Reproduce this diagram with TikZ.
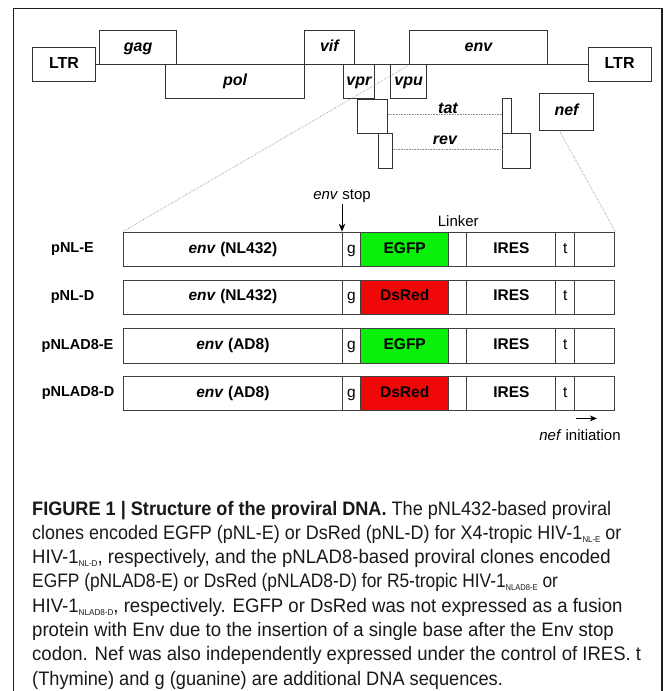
\documentclass[tikz,border=0pt]{standalone}
\usepackage{fontspec}
\setmainfont{Liberation Sans}
\newfontfamily\capfont[FakeStretch=0.956]{Liberation Sans}
\usetikzlibrary{arrows.meta,calc}
\definecolor{gfpgreen}{RGB}{8,240,8}
\definecolor{dsred}{RGB}{240,8,8}
\definecolor{frameblk}{RGB}{30,30,30}
\newcommand\subsc[1]{\raisebox{-3pt}{\fontsize{8.5}{8.5}\selectfont #1}}
\newcommand\fs[1]{\fontsize{#1}{#1}\selectfont}
\newcommand\sq[2]{\scalebox{#1}[1]{#2}}
\tikzset{
 gene/.style={draw=black!80, line width=0.8pt, fill=white, inner sep=0pt, anchor=north west,
   text height=11.5pt, text depth=4pt, font=\fs{16}\bfseries\itshape},
 ltr/.style={gene, font=\fs{16}\bfseries},
 glabel/.style={inner sep=0pt, font=\fs{16}\bfseries\itshape},
 backbone/.style={draw=black!80, line width=0.8pt},
 faint/.style={draw=black!45, line width=0.6pt, densely dotted},
 cell/.style={draw=black!75, line width=1.1pt, fill=white, inner sep=0pt, anchor=north west,
   minimum height=34.3pt, text height=11pt, text depth=3.5pt, font=\fs{15.5}\bfseries},
 plaincell/.style={cell, font=\fs{15.5}},
 rowlab/.style={inner sep=0pt, font=\fs{14.5}\bfseries},
 note/.style={inner sep=1pt, font=\fs{15}},
 pointer/.style={draw=black, line width=1pt, -{Stealth[length=8pt,width=6.5pt]}},
 capline/.style={inner sep=0pt, anchor=base west, font=\capfont\fs{19.5}, text=black!90},
}
\newcommand\plasmidrow[7]{%
 \node[cell, minimum width=219.3pt] (#1env) at (122.7,#2) {\textit{env} (#3)};
 \node[plaincell, minimum width=18pt] (#1g) at (342,#2) {g};
 \node[cell, minimum width=88.3pt, fill=#4] (#1fp) at (360,#2) {#5};
 \node[cell, minimum width=18pt] (#1lk) at (448.3,#2) {};
 \node[cell, minimum width=89pt] (#1ires) at (466.3,#2) {IRES};
 \node[plaincell, minimum width=19pt] (#1t) at (555.3,#2) {t};
 \node[cell, minimum width=40pt] (#1end) at (574.3,#2) {};
 \node[rowlab] (#1lab) at (#6,{#2+17.15}) {#7};
}
\begin{document}
\begin{tikzpicture}[x=1pt,y=-1pt]
\useasboundingbox[fill=white] (0,0) rectangle (671,691);
% frame
\draw[frameblk, line width=1.3pt] (13.5,691) -- (13.5,8.5) -- (662,8.5) -- (662,691);

% genome map
\node[ltr, minimum width=63.3pt, minimum height=34pt] (ltrL) at (32,47) {LTR};
\node[ltr, minimum width=63pt, minimum height=34pt] (ltrR) at (587.7,47) {LTR};
\draw[backbone] (ltrL.east) -- (ltrR.west);
\node[gene, minimum width=76.7pt, minimum height=34.3pt] (gag) at (99.3,29.7) {gag};
\node[gene, minimum width=138.7pt, minimum height=34.4pt] (pol) at (165.3,64) {pol};
\node[gene, minimum width=49.4pt, minimum height=34.3pt] (vif) at (304.3,29.7) {vif};
\node[gene, minimum width=31.6pt, minimum height=34pt] (vpr) at (342.7,64) {vpr};
\node[gene, minimum width=36pt, minimum height=34pt] (vpu) at (390.3,64) {vpu};
\node[gene, minimum width=137.4pt, minimum height=34.3pt] (env) at (409.3,29.7) {env};
\node[gene, minimum width=30pt, minimum height=34.3pt] (tatA) at (357,99) {};
\node[gene, minimum width=9pt, minimum height=35pt] (tatB) at (502.3,98.3) {};
\node[gene, minimum width=14.3pt, minimum height=35pt] (revA) at (377.7,133.3) {};
\node[gene, minimum width=27.7pt, minimum height=35pt] (revB) at (502.3,133.3) {};
\node[gene, minimum width=53.7pt, minimum height=36.7pt] (nef) at (539.3,93.3) {nef};

\coordinate (tatS) at ($(tatA.north east)!0.43!(tatA.south east)$);
\coordinate (revS) at ($(revA.north east)!0.457!(revA.south east)$);
\draw[faint] (tatS) -- (tatS -| tatB.west);
\draw[faint] (revS) -- (revS -| revB.west);
\node[glabel] (tatlab) at (448,108) {tat};
\node[glabel] (revlab) at (445,140.7) {rev};

% constructs
\plasmidrow{rA}{231.7}{NL432}{gfpgreen}{EGFP}{72.5}{pNL-E}
\plasmidrow{rB}{279.5}{NL432}{dsred}{DsRed}{72.5}{pNL-D}
\plasmidrow{rC}{328.3}{AD8}{gfpgreen}{EGFP}{77.5}{pNLAD8-E}
\plasmidrow{rD}{376}{AD8}{dsred}{DsRed}{78}{pNLAD8-D}

% zoom lines
\coordinate (nefS) at ($(nef.south west)!0.37!(nef.south east)$);
\draw[faint] (env.south west) -- (rAenv.north west);
\draw[faint] (nefS) -- (rAend.north east);

% annotations
\node[note] (envstop) at (342,196.7) {\textit{env} stop};
\draw[pointer] (envstop.south) -- (rAg.north west);
\node[note] (linker) at (458.3,220.7) {Linker};
\coordinate (nefstart) at ($(rDend.south west)+(1.5,7)$);
\coordinate (nefend) at ($(nefstart)+(21,0)$);
\draw[pointer, -{Stealth[length=7pt,width=6pt]}] (nefstart) -- (nefend);
\node[note] (nefinit) at (580,435) {\textit{nef} initiation};

% caption
\node[capline] (cap1) at (32,515) {\sq{0.972}{\textbf{FIGURE 1 | Structure of the proviral DNA.} The pNL432-based proviral}};
\node[capline] (cap2) at (32,539.3) {\sq{0.964}{clones encoded EGFP (pNL-E) or DsRed (pNL-D) for X4-tropic HIV-1\subsc{NL-E} or}};
\node[capline] (cap3) at (32,563.6) {\sq{0.997}{HIV-1\subsc{NL-D}, respectively, and the pNLAD8-based proviral clones encoded}};
\node[capline] (cap4) at (32,587.9) {\sq{0.931}{EGFP (pNLAD8-E) or DsRed (pNLAD8-D) for R5-tropic HIV-1\subsc{NLAD8-E} or}};
\node[capline] (cap5) at (32,612.2) {\sq{0.998}{HIV-1\subsc{NLAD8-D}, respectively. EGFP or DsRed was not expressed as a fusion}};
\node[capline] (cap6) at (32,636.5) {\sq{0.997}{protein with Env due to the insertion of a single base after the Env stop}};
\node[capline] (cap7) at (32,660.8) {\sq{0.995}{codon. Nef was also independently expressed under the control of IRES. t}};
\node[capline] (cap8) at (32,685.1) {\sq{0.977}{(Thymine) and g (guanine) are additional DNA sequences.}};
\end{tikzpicture}
\end{document}
